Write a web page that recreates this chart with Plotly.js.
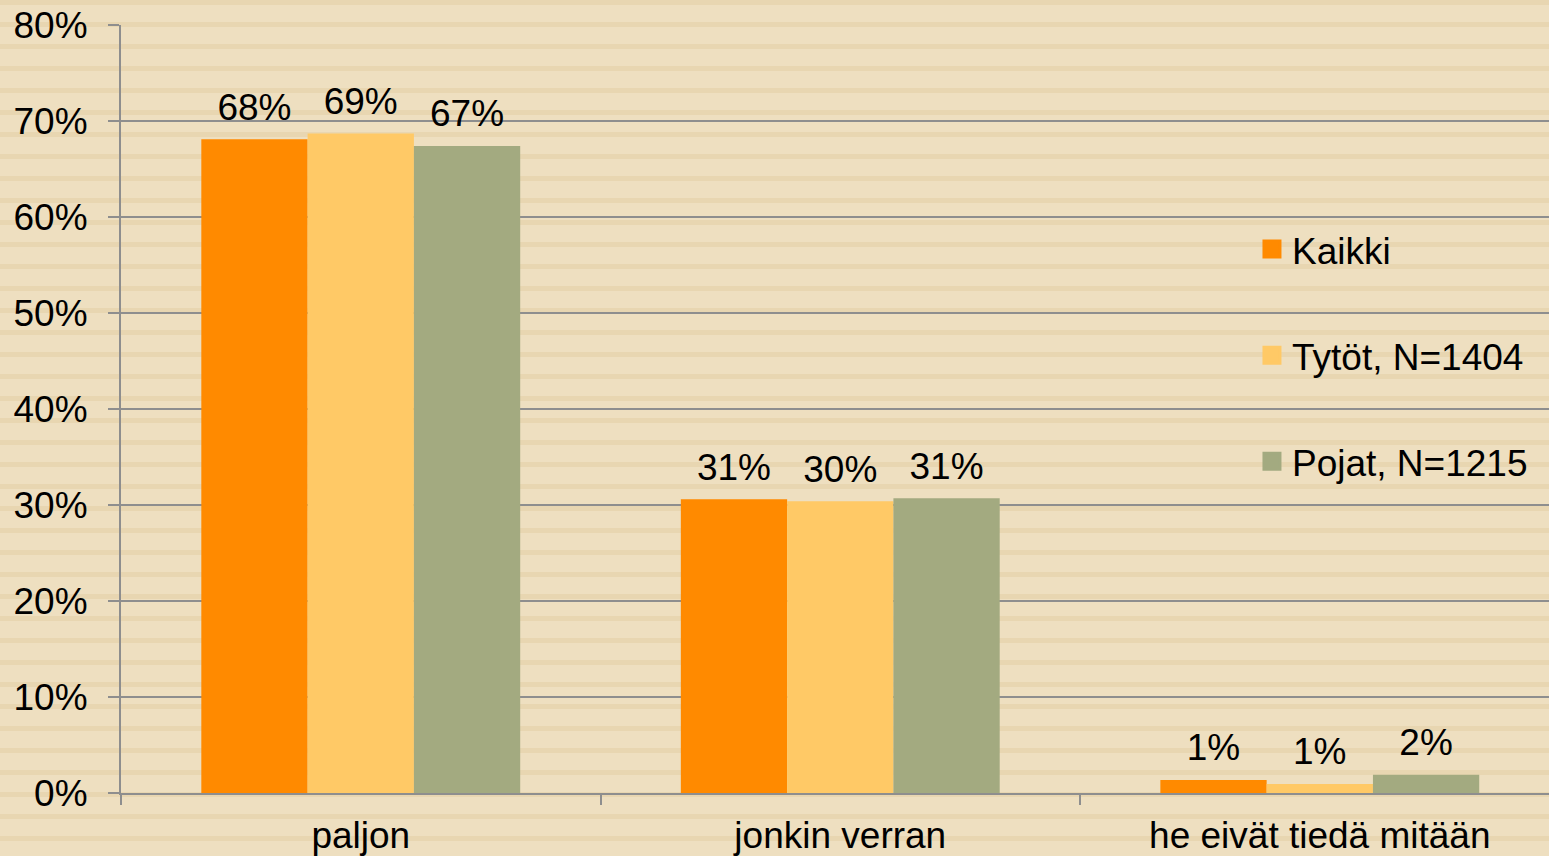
<!DOCTYPE html>
<html>
<head>
<meta charset="utf-8">
<script src="https://cdn.plot.ly/plotly-3.0.1.min.js"></script>
<style>
  html, body { margin: 0; padding: 0; }
  body {
    width: 1549px; height: 856px; overflow: hidden;
    background: repeating-linear-gradient(to bottom, #E8D6B1 0px, #E8D6B1 5.5px, #EEDFC0 5.5px, #EEDFC0 22px);
  }
  #chart { width: 1549px; height: 856px; }
</style>
</head>
<body>
<div id="chart"></div>
<script>
// ---- data ----
const categories = ["paljon", "jonkin verran", "he eivät tiedä mitään"];
const seriesNames = ["Kaikki", "Tytöt, N=1404", "Pojat, N=1215"];
const kaikki = [68.1, 30.6, 1.35];
const tytot  = [68.7, 30.4, 0.95];
const pojat  = [67.4, 30.7, 1.9];
const seriesColors = ["#FF8A00", "#FFC966", "#A3AA80"];
const yTickVals = [0, 10, 20, 30, 40, 50, 60, 70, 80];

const seriesValues = [kaikki, tytot, pojat];
const FONT = "Liberation Sans, Arial, sans-serif";
const FS = 37;

const traces = [];
seriesValues.forEach((vals, i) => {
  traces.push({
    type: "bar",
    x: categories,
    y: vals,
    name: seriesNames[i],
    offsetgroup: "g" + i,
    legendgroup: "g" + i,
    showlegend: false,
    marker: { color: seriesColors[i] },
    hoverinfo: "skip"
  });
});
seriesValues.forEach((vals, i) => {
  traces.push({
    type: "scatter",
    mode: "markers+text",
    x: categories,
    y: vals,
    offsetgroup: "g" + i,
    legendgroup: "g" + i,
    showlegend: false,
    marker: { size: 15, opacity: 0, color: seriesColors[i] },
    texttemplate: "%{y:.0f}%",
    textposition: "top center",
    textfont: { family: FONT, size: FS, color: "#000000" },
    cliponaxis: false,
    hoverinfo: "skip"
  });
});
seriesValues.forEach((vals, i) => {
  traces.push({
    type: "scatter",
    mode: "markers",
    x: [null],
    y: [null],
    name: seriesNames[i],
    offsetgroup: "g" + i,
    legendgroup: "g" + i,
    showlegend: true,
    marker: { symbol: "square", size: 16, color: seriesColors[i], line: { color: seriesColors[i], width: 3 } },
    hoverinfo: "skip"
  });
});

const layout = {
  width: 1549,
  height: 856,
  paper_bgcolor: "rgba(0,0,0,0)",
  plot_bgcolor: "rgba(0,0,0,0)",
  margin: { l: 121, r: 0, t: 25, b: 63, pad: 0 },
  font: { family: FONT, size: FS, color: "#000000" },
  barmode: "group",
  bargap: 0.335,
  bargroupgap: 0,
  scattermode: "group",
  scattergap: 0.335,
  showlegend: true,
  legend: {
    x: 0.792, xanchor: "left",
    y: 0.748, yanchor: "top",
    bgcolor: "rgba(0,0,0,0)",
    font: { family: FONT, size: FS, color: "#000000" },
    traceorder: "grouped",
    tracegroupgap: 55,
    itemwidth: 30
  },
  xaxis: {
    type: "category",
    range: [-0.5, 2.478],
    tickson: "boundaries",
    ticks: "outside",
    ticklen: 10,
    tickwidth: 2,
    tickcolor: "#8E8E8E",
    showline: true,
    linecolor: "#8E8E8E",
    linewidth: 2,
    showgrid: false,
    zeroline: false,
    ticklabelstandoff: 9,
    tickfont: { family: FONT, size: FS, color: "#000000" },
    fixedrange: true
  },
  yaxis: {
    range: [0, 80],
    tickvals: yTickVals,
    ticktext: yTickVals.map(v => v + "%"),
    ticks: "outside",
    ticklen: 11,
    tickwidth: 2,
    tickcolor: "#8E8E8E",
    showline: true,
    linecolor: "#8E8E8E",
    linewidth: 2,
    showgrid: true,
    gridcolor: "#8E8E8E",
    gridwidth: 1.6,
    zeroline: false,
    ticklabelstandoff: 13,
    tickfont: { family: FONT, size: FS, color: "#000000" },
    fixedrange: true
  }
};

Plotly.newPlot("chart", traces, layout, { displayModeBar: false, staticPlot: true });
</script>
</body>
</html>
